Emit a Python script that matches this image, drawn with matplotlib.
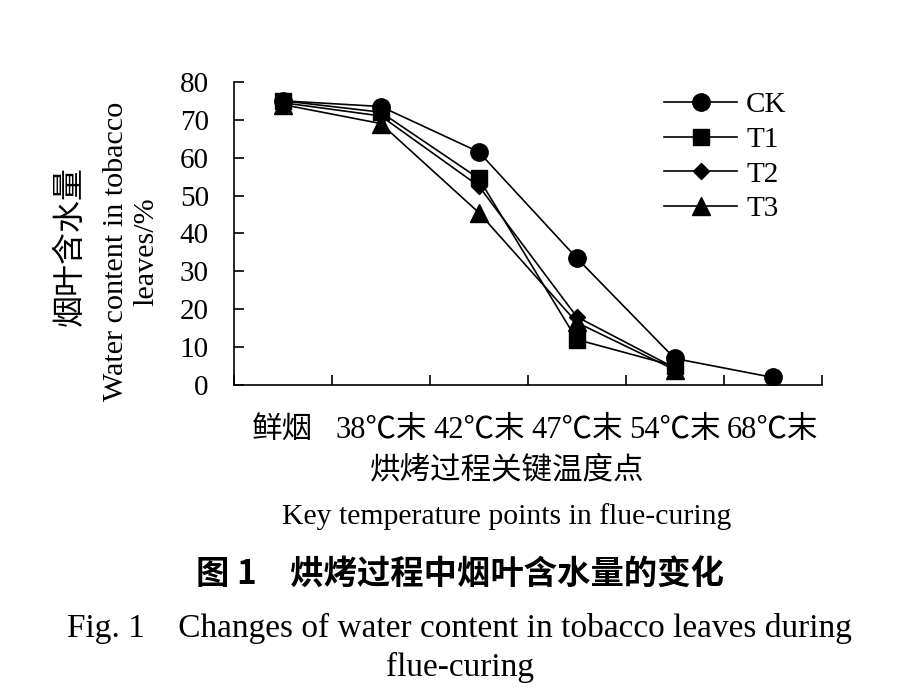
import matplotlib
matplotlib.use('Agg')
import matplotlib.pyplot as plt
import numpy as np

plt.rcParams['font.family'] = ['Liberation Serif', 'Noto Sans CJK SC']

# categories (key temperature points)
categories = ['鲜烟', '38℃末', '42℃末', '47℃末', '54℃末', '68℃末']

# water content, %
ck = [75.0, 73.5, 61.5, 33.5, 7.0, 2.0]
t1 = [75.0, 72.0, 54.5, 12.0, 5.0]
t2 = [74.5, 71.0, 52.5, 18.0, 4.5]
t3 = [74.0, 69.0, 45.5, 16.5, 4.0]

series = [('CK', ck, 'o', 12.5), ('T1', t1, 's', 11.5),
          ('T2', t2, 'D', 8.5), ('T3', t3, '^', 13)]

fig = plt.figure(figsize=(9.1, 6.88), dpi=100)
ax = fig.add_axes([0.257, 0.4404, 0.646, 0.4406])

x = np.arange(len(categories))
for name, vals, mk, ms in series:
    ax.plot(x[:len(vals)], vals, color='black', lw=1.2, marker=mk,
            markersize=ms, label=name)

ax.set_xlim(-0.5, len(categories) - 0.5)
ax.set_ylim(0, 80)
ax.set_yticks(range(0, 81, 10))
ax.set_xticks(x)
ax.set_xticklabels(categories)
ax.set_xticks(np.arange(-0.5, len(categories)), minor=True)
ax.tick_params(axis='x', which='major', length=0, pad=22, labelsize=22)
ax.tick_params(axis='x', which='minor', direction='in', length=7, width=1.2)
ax.tick_params(axis='y', direction='in', length=7, width=1.2, labelsize=21, pad=18)
for s in ['top', 'right']:
    ax.spines[s].set_visible(False)
for s in ['left', 'bottom']:
    ax.spines[s].set_linewidth(1.2)

leg = ax.legend(loc='upper right', bbox_to_anchor=(0.96, 1.005), frameon=False,
                fontsize=21, handlelength=2.5, handletextpad=0.3,
                labelspacing=0.28, borderaxespad=0)

# axis labels
fig.text(0.077, 0.642, '烟叶含水量', rotation=90, ha='center', va='center',
         fontsize=23, family=['Noto Sans CJK SC'], fontweight='light')
fig.text(0.128, 0.635, 'Water content in tobacco', rotation=90, ha='center',
         va='center', fontsize=21.7)
fig.text(0.161, 0.634, 'leaves/%', rotation=90, ha='center', va='center',
         fontsize=21.7)
fig.text(0.557, 0.317, '烘烤过程关键温度点', ha='center', va='center',
         fontsize=22, family=['Noto Sans CJK SC'], fontweight='light')
fig.text(0.557, 0.249, 'Key temperature points in flue-curing', ha='center',
         va='center', fontsize=21.4)

# caption
fig.text(0.505, 0.164, '图 1　烘烤过程中烟叶含水量的变化', ha='center', va='center',
         fontsize=24, family=['Noto Sans CJK SC'], fontweight='bold')
fig.text(0.505, 0.087, 'Fig. 1　Changes of water content in tobacco leaves during',
         ha='center', va='center', fontsize=24)
fig.text(0.505, 0.030, 'flue-curing', ha='center', va='center', fontsize=24)

fig.savefig('out.png', dpi=100)
